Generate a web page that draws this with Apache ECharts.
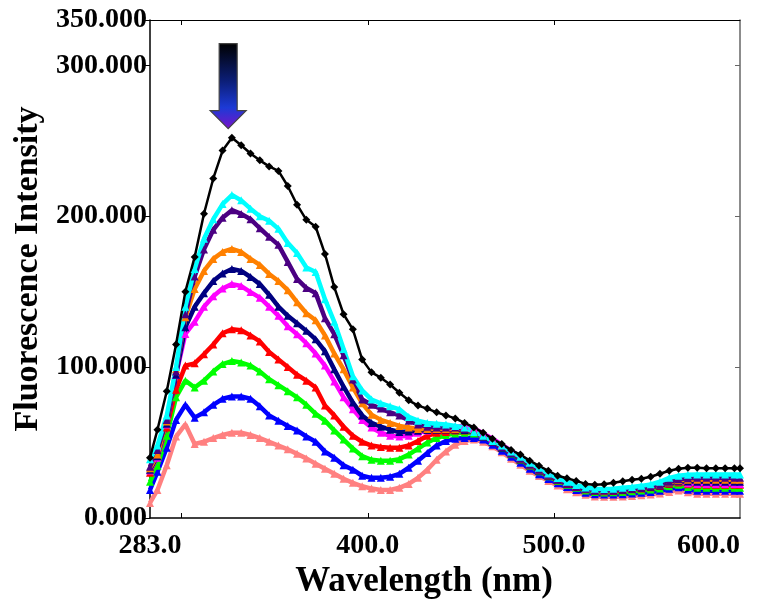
<!DOCTYPE html>
<html><head><meta charset="utf-8">
<script src="https://cdn.jsdelivr.net/npm/echarts@6/dist/echarts.min.js"></script>
<style>html,body{margin:0;padding:0;background:#fff}#c{width:766px;height:606px}</style>
</head><body><div id="c"></div>
<script>
const wavelengths = [283, 287, 292, 297, 302, 307, 312, 317, 322, 327, 332, 337, 342, 347, 352, 357, 362, 367, 372, 377, 382, 387, 392, 397, 402, 407, 412, 417, 422, 427, 432, 437, 442, 447, 452, 457, 462, 467, 472, 477, 482, 487, 492, 497, 502, 507, 512, 517, 522, 527, 532, 537, 542, 547, 552, 557, 562, 567, 572, 577, 582, 587, 592, 597, 600];

const blackVals = [40, 58.5, 84, 115, 150, 173, 201.6, 225, 243.5, 252, 247, 241.5, 237, 233, 230, 220, 207.6, 197.6, 193, 175, 153, 135, 125, 105, 96.5, 93, 88.5, 83, 78, 74.5, 72.5, 70, 68, 66, 63, 60, 56.5, 52.5, 49, 45, 42, 38, 34.6, 31.3, 28, 26.3, 24.6, 22.6, 22, 22.3, 23.3, 24.3, 25.3, 26, 27.3, 29.3, 31.3, 32.6, 33.3, 33.3, 33, 33, 33, 33, 33];
const cyanVals = [39, 48, 68, 100, 140, 165, 185, 198, 208, 214, 210.5, 205, 200, 197, 191.6, 182.3, 175.6, 166, 163, 145, 130, 112, 94, 84.5, 78.5, 76, 74, 72, 67, 64.5, 63, 62.5, 62, 61, 60, 57, 54.5, 51, 48, 44, 40.6, 36.6, 33.3, 29.5, 26.5, 24, 21.8, 20.2, 19.4, 19.2, 19.4, 20, 20.6, 21.3, 22.3, 24, 26.6, 28, 28.6, 28.8, 28.8, 28.8, 28.8, 28.8, 28.8];
const purpleVals = [34, 45, 65, 97, 135, 160, 178, 191, 199, 204, 201.5, 198, 192, 186.3, 181, 169.7, 158.4, 152.4, 149, 132.4, 121.8, 107.8, 91.8, 78.5, 75, 72.5, 70, 68, 64.5, 62, 60.5, 60, 60, 60, 59, 57, 54, 50.5, 46.8, 43, 39.3, 35.5, 32, 28.6, 25.5, 23, 21, 19.3, 18.5, 18.3, 18.6, 19, 19.6, 20.3, 21, 22, 24, 25.6, 26.3, 26.6, 26.6, 26.6, 26.6, 26.6, 26.6];
const orangeVals = [33, 42, 64, 98.5, 133, 151.7, 163.7, 171.7, 176.3, 178.3, 176.3, 171.7, 167.7, 161.7, 157, 151, 143, 135.7, 131, 121, 109, 98.5, 86.5, 76, 68.5, 65, 63, 61, 60, 59, 59, 59, 59, 59, 59, 57.5, 54.3, 50.8, 47, 43, 39.3, 35.5, 32, 28.6, 25.6, 23.2, 21.2, 19.5, 18.5, 18.3, 18.6, 19.2, 19.8, 20.5, 21.3, 22.2, 23.6, 25, 25.3, 25.3, 25.3, 25.3, 25.3, 25.3, 25.3];
const navyVals = [32, 41, 62.5, 95, 126.4, 140, 149, 157, 162, 165, 163.7, 159.7, 155, 148, 140, 134, 129, 124, 118.4, 110.5, 98.5, 87, 76.5, 68, 63, 60.5, 58.5, 57, 57.3, 57.8, 58.3, 58.5, 58.7, 58.7, 58.3, 57, 54, 50.3, 46.5, 42.7, 38.8, 35, 31.5, 28.2, 25.2, 22.8, 20.8, 19.2, 18.2, 18, 18.3, 18.8, 19.4, 20, 20.7, 21.6, 23, 24.3, 24.2, 24, 24, 24, 24, 24, 24];
const magentaVals = [31.5, 40, 62, 95, 122, 130, 140, 147, 152, 155, 153.7, 149.7, 146, 140, 134, 127, 121.8, 115.8, 109, 101, 90.5, 80, 72, 65, 60, 56.5, 54.5, 54, 54.5, 56.5, 58, 59, 60, 60.5, 61, 59.5, 56, 52.6, 48.6, 44.6, 40.6, 36.6, 33, 29.6, 26.3, 23.6, 21.3, 19.7, 18.5, 18.2, 18.4, 19, 19.5, 20.2, 21, 22, 23.4, 24.3, 23, 22.6, 22.6, 22.6, 22.6, 22.6, 22.6];
const redVals = [30, 41, 60, 85, 101, 102.5, 108.5, 115, 122.4, 125, 124.4, 121, 117, 110, 105, 100, 95, 91, 86.5, 74.5, 68, 60.5, 54.5, 50.5, 48, 47, 46.6, 46.6, 48, 51, 54.5, 56.5, 57, 58, 58, 57, 54.5, 51, 47, 43, 39, 35, 31.4, 28, 25, 22.5, 20.5, 19, 18, 17.7, 17.9, 18.4, 19, 19.6, 20.3, 21.2, 22.6, 23.6, 22.4, 22, 22, 22, 22, 22, 22];
const greenVals = [24, 34.6, 54.5, 80, 91, 86.5, 91, 97, 102, 104, 103, 101, 97, 92, 88, 84, 80, 75, 69, 64.5, 58, 52, 46, 41, 38.6, 38, 38, 39, 42, 46, 50, 53, 55, 56, 56.5, 56, 54, 50.5, 46.6, 42.6, 38.5, 34.6, 31, 27.6, 24.6, 22, 20, 18.3, 17.2, 16.9, 17, 17.3, 17.8, 18.3, 18.9, 19.6, 21, 22, 20.6, 20, 20, 20, 20, 20, 20];
const blueVals = [18.6, 30.6, 46.6, 65, 75, 66.5, 70, 75, 79, 80.5, 80.5, 79, 74, 68, 64.5, 61, 58, 54, 50.5, 44, 40, 35, 32, 28, 26.6, 26.6, 27.3, 29.3, 33.3, 38, 43, 48, 51, 52.5, 53, 53, 52, 48.6, 44.6, 40.6, 36.6, 32.6, 29, 25.8, 23, 20.5, 18.5, 16.8, 15.8, 15.5, 15.5, 15.8, 16.2, 16.7, 17.3, 18, 19.3, 20.3, 18.8, 18, 18, 18, 18, 18, 18];
const salmonVals = [10, 18.6, 35, 54, 62, 49, 50.5, 53, 55, 56.5, 56.5, 55, 53, 50.5, 48, 45.5, 42.5, 39.5, 36, 32.6, 29.3, 26, 23.3, 21, 19.5, 18.6, 18.6, 20, 22.6, 26.6, 32, 38.6, 44, 48.6, 51, 52, 50.5, 47.5, 43.6, 39.3, 35.3, 31.3, 27.8, 24.6, 21.6, 19, 17, 15.4, 14.3, 14, 14, 14.2, 14.5, 15, 15.5, 16.2, 17.3, 18.3, 17, 16, 16, 16, 16, 16, 16];

const xTickValues = [300, 400, 500];
const xLabelValues = [283, 400, 500, 600];
const xLabelTexts = ['283.0', '400.0', '500.0', '600.0'];
const yTickValues = [0, 100, 200, 300, 330];
const yLabelTexts = ['0.000', '100.000', '200.000', '300.000', '350.000'];
const yRightTicks = [100, 200, 300];
const arrowAnchor = [325, 258];

const FONT = '"Times New Roman", "Liberation Serif", serif';

// drawing order: bottom to top
const seriesList = [
  {name: 'salmon', vals: salmonVals, color: '#FF8080', symbol: 'triangle'},
  {name: 'blue', vals: blueVals, color: '#0000FF', symbol: 'triangle'},
  {name: 'green', vals: greenVals, color: '#00FF00', symbol: 'triangle'},
  {name: 'red', vals: redVals, color: '#FF0000', symbol: 'triangle'},
  {name: 'magenta', vals: magentaVals, color: '#FF00FF', symbol: 'triangle'},
  {name: 'navy', vals: navyVals, color: '#000080', symbol: 'triangle'},
  {name: 'orange', vals: orangeVals, color: '#FF8000', symbol: 'triangle'},
  {name: 'purple', vals: purpleVals, color: '#4B0082', symbol: 'triangle'},
  {name: 'cyan', vals: cyanVals, color: '#00FFFF', symbol: 'triangle'},
  {name: 'black', vals: blackVals, color: '#000000', symbol: 'diamond'}
];

const chart = echarts.init(document.getElementById('c'), null, {renderer: 'canvas'});

const series = seriesList.map(s => ({
  name: s.name,
  type: 'line',
  xAxisIndex: 0,
  yAxisIndex: 0,
  data: wavelengths.map((w, i) => [w, s.vals[i]]),
  symbol: s.symbol,
  symbolSize: 8,
  showSymbol: true,
  showAllSymbol: true,
  lineStyle: {color: s.color, width: s.symbol === 'diamond' ? 2.5 : 4.5},
  itemStyle: {color: s.color, borderWidth: 0},
  animation: false,
  silent: true
}));

const labelStyle = {fontSize: 28, fontWeight: 'bold', fontFamily: FONT, color: '#000'};

chart.setOption({
  animation: false,
  backgroundColor: '#fff',
  grid: {left: 150, right: 26, top: 20, bottom: 88, containLabel: false},
  xAxis: [
    {
      type: 'value', min: 283, max: 600, position: 'bottom',
      axisLine: {show: true, onZero: false, lineStyle: {color: '#000', width: 1.5}},
      axisTick: {show: true, inside: true, length: 5, customValues: xTickValues, lineStyle: {color: '#000', width: 1}},
      axisLabel: Object.assign({
        customValues: xLabelValues,
        formatter: v => { const i = xLabelValues.indexOf(v); return i >= 0 ? xLabelTexts[i] : ''; },
        margin: 14, alignMaxLabel: 'right'
      }, labelStyle),
      splitLine: {show: false},
      name: 'Wavelength (nm)', nameLocation: 'middle', nameGap: 46,
      nameTextStyle: {fontSize: 35, fontWeight: 'bold', fontFamily: FONT, color: '#000', padding: [0, 42, 0, 0]}
    },
    {
      type: 'value', min: 283, max: 600, position: 'top',
      axisLine: {show: true, onZero: false, lineStyle: {color: '#000', width: 1}},
      axisTick: {show: true, inside: true, length: 5, customValues: xTickValues, lineStyle: {color: '#000'}},
      axisLabel: {show: false},
      splitLine: {show: false}
    }
  ],
  yAxis: [
    {
      type: 'value', min: 0, max: 330, position: 'left',
      axisLine: {show: true, onZero: false, lineStyle: {color: '#000', width: 1.5}},
      axisTick: {show: true, inside: false, length: 6, customValues: yTickValues, lineStyle: {color: '#000'}},
      axisLabel: Object.assign({
        customValues: yTickValues,
        formatter: v => { const i = yTickValues.indexOf(v); return i >= 0 ? yLabelTexts[i] : ''; },
        margin: 3
      }, labelStyle),
      splitLine: {show: false},
      name: 'Fluorescence Intensity', nameLocation: 'middle', nameGap: 104,
      nameTextStyle: {fontSize: 34, fontWeight: 'bold', fontFamily: FONT, color: '#000'}
    },
    {
      type: 'value', min: 0, max: 330, position: 'right',
      axisLine: {show: true, onZero: false, lineStyle: {color: '#666', width: 1.5}},
      axisTick: {show: true, inside: true, length: 5, customValues: yRightTicks, lineStyle: {color: '#666'}},
      axisLabel: {show: false},
      splitLine: {show: false}
    }
  ],
  series: series
});

// Down arrow annotation anchored at data coordinates
const tip = chart.convertToPixel({xAxisIndex: 0, yAxisIndex: 0}, arrowAnchor);
const hw = 18, sw = 9, headH = 18, totalH = 85;
chart.setOption({
  graphic: [{
    type: 'polygon',
    z: 100,
    shape: {
      points: [
        [tip[0], tip[1]],
        [tip[0] - hw, tip[1] - headH],
        [tip[0] - sw, tip[1] - headH],
        [tip[0] - sw, tip[1] - totalH],
        [tip[0] + sw, tip[1] - totalH],
        [tip[0] + sw, tip[1] - headH],
        [tip[0] + hw, tip[1] - headH]
      ]
    },
    style: {
      fill: new echarts.graphic.LinearGradient(0, 0, 0, 1, [
        {offset: 0, color: '#000000'},
        {offset: 0.45, color: '#0c1f7a'},
        {offset: 0.75, color: '#1c3ad6'},
        {offset: 1, color: '#7a12c8'}
      ]),
      stroke: '#444',
      lineWidth: 1.2
    }
  }]
});
</script></body></html>
